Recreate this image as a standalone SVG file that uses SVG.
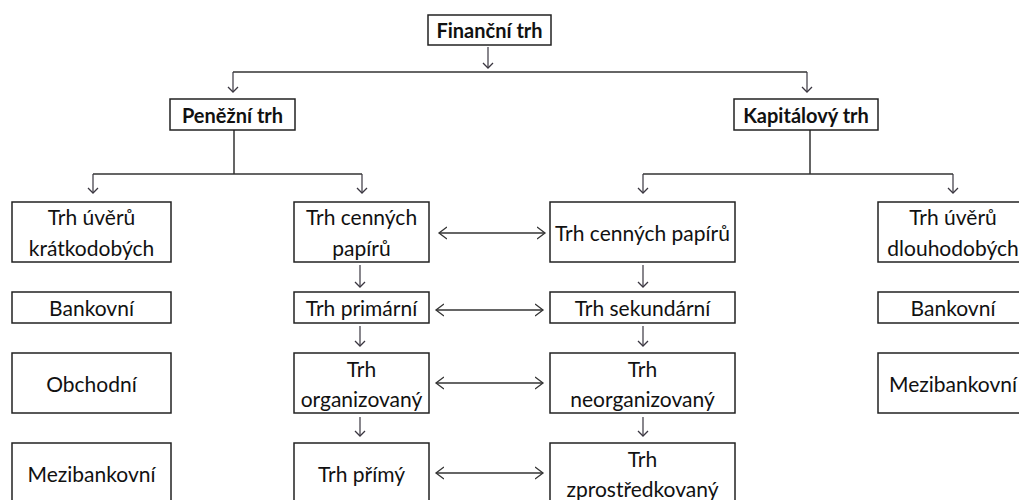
<svg xmlns="http://www.w3.org/2000/svg" width="1019" height="500" viewBox="0 0 1019 500">
<style>
.box{fill:#fff;stroke:#222;stroke-width:1.5}
.t{font-family:Lato,"Liberation Sans",sans-serif;font-size:21px;fill:#111;text-anchor:middle}
.b{font-weight:bold;font-size:20px}
.ln{fill:none;stroke:#333;stroke-width:1.5}
.ar{fill:none;stroke:#3a3640;stroke-width:1.2}
.dh{fill:none;stroke:#333;stroke-width:1.3}
</style>
<defs>
<marker id="ah" markerWidth="14" markerHeight="14" viewBox="-7 -7 14 14" refX="0" refY="0" orient="auto-start-reverse" markerUnits="userSpaceOnUse">
<path d="M-5,-5 L0,0 L-5,5" fill="none" stroke="#3a3640" stroke-width="1.3"/>
</marker>
<marker id="ah2" markerWidth="16" markerHeight="16" viewBox="-8 -8 16 16" refX="0" refY="0" orient="auto-start-reverse" markerUnits="userSpaceOnUse">
<path d="M-8,-6 L0,0 L-8,6" fill="none" stroke="#333" stroke-width="1.3"/>
</marker>
</defs>
<rect width="1019" height="500" fill="#fff"/>
<g id="connectors">
<path class="ar" d="M488,47 V68" marker-end="url(#ah)"/>
<path class="ln" d="M233,72 H807"/>
<path class="ar" d="M233,72 V92" marker-end="url(#ah)"/>
<path class="ar" d="M807,72 V92" marker-end="url(#ah)"/>
<path class="ln" d="M234,130 V174 M93,174 H362"/>
<path class="ar" d="M93,174 V193" marker-end="url(#ah)"/>
<path class="ar" d="M362,174 V193" marker-end="url(#ah)"/>
<path class="ln" d="M810,130 V174 M643,174 H953"/>
<path class="ar" d="M643,174 V193" marker-end="url(#ah)"/>
<path class="ar" d="M953,174 V193" marker-end="url(#ah)"/>
<path class="ar" d="M360,265 V287" marker-end="url(#ah)"/>
<path class="ar" d="M360,326 V346" marker-end="url(#ah)"/>
<path class="ar" d="M360,417 V436" marker-end="url(#ah)"/>
<path class="ar" d="M643,265 V287" marker-end="url(#ah)"/>
<path class="ar" d="M643,326 V346" marker-end="url(#ah)"/>
<path class="ar" d="M643,417 V436" marker-end="url(#ah)"/>
<path class="dh" d="M439,233 H545" marker-start="url(#ah2)" marker-end="url(#ah2)"/>
<path class="dh" d="M436,310 H543" marker-start="url(#ah2)" marker-end="url(#ah2)"/>
<path class="dh" d="M436,383 H543" marker-start="url(#ah2)" marker-end="url(#ah2)"/>
<path class="dh" d="M436,473 H543" marker-start="url(#ah2)" marker-end="url(#ah2)"/>
</g>
<g id="financni-trh"><rect class="box" x="428" y="15" width="123" height="30"/><text class="t b" x="489.5" y="38">Finanční trh</text></g>
<g id="penezni-trh"><rect class="box" x="170" y="99" width="125" height="31"/><text class="t b" x="232.5" y="123">Peněžní trh</text></g>
<g id="kapitalovy-trh"><rect class="box" x="734" y="99" width="144" height="31"/><text class="t b" x="806" y="123">Kapitálový trh</text></g>
<g id="uvery-kratko"><rect class="box" x="12" y="202" width="159" height="60"/><text class="t" x="91.5" y="225">Trh úvěrů</text><text class="t" x="91.5" y="256">krátkodobých</text></g>
<g id="bankovni-l"><rect class="box" x="12" y="292" width="159" height="31"/><text class="t" x="91.5" y="316">Bankovní</text></g>
<g id="obchodni"><rect class="box" x="12" y="353" width="159" height="60"/><text class="t" x="91.5" y="392">Obchodní</text></g>
<g id="mezibankovni-l"><rect class="box" x="12" y="443" width="159" height="60"/><text class="t" x="91.5" y="482">Mezibankovní</text></g>
<g id="cp-l"><rect class="box" x="294" y="202" width="135" height="60"/><text class="t" x="361.5" y="225">Trh cenných</text><text class="t" x="361.5" y="256">papírů</text></g>
<g id="primarni"><rect class="box" x="294" y="292" width="135" height="31"/><text class="t" x="361.5" y="316">Trh primární</text></g>
<g id="organizovany"><rect class="box" x="294" y="353" width="135" height="60"/><text class="t" x="361.5" y="377">Trh</text><text class="t" x="361.5" y="407">organizovaný</text></g>
<g id="primy"><rect class="box" x="294" y="443" width="135" height="60"/><text class="t" x="361.5" y="482">Trh přímý</text></g>
<g id="cp-r"><rect class="box" x="550" y="202" width="185" height="60"/><text class="t" x="642.5" y="241">Trh cenných papírů</text></g>
<g id="sekundarni"><rect class="box" x="550" y="292" width="185" height="31"/><text class="t" x="642.5" y="316">Trh sekundární</text></g>
<g id="neorganizovany"><rect class="box" x="550" y="353" width="185" height="60"/><text class="t" x="642.5" y="377">Trh</text><text class="t" x="642.5" y="407">neorganizovaný</text></g>
<g id="zprostredkovany"><rect class="box" x="550" y="443" width="185" height="60"/><text class="t" x="642.5" y="467">Trh</text><text class="t" x="642.5" y="497">zprostředkovaný</text></g>
<g id="uvery-dlouho"><rect class="box" x="878" y="202" width="150" height="60"/><text class="t" x="953" y="225">Trh úvěrů</text><text class="t" x="953" y="256">dlouhodobých</text></g>
<g id="bankovni-r"><rect class="box" x="878" y="292" width="150" height="31"/><text class="t" x="953" y="316">Bankovní</text></g>
<g id="mezibankovni-r"><rect class="box" x="878" y="353" width="150" height="60"/><text class="t" x="953" y="392">Mezibankovní</text></g>
</svg>
